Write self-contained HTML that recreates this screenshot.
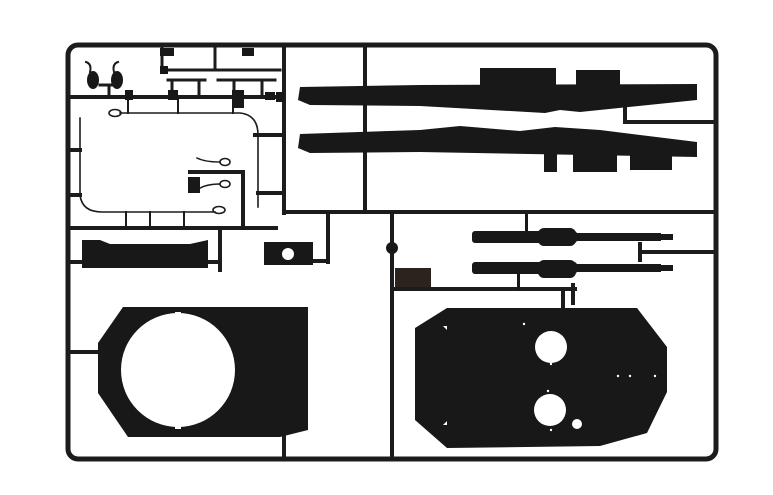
<!DOCTYPE html>
<html><head><meta charset="utf-8"><style>
html,body{margin:0;padding:0;background:#fff;width:773px;height:495px;overflow:hidden}
svg{display:block}
</style></head><body>
<svg width="773" height="495" viewBox="0 0 773 495" xmlns="http://www.w3.org/2000/svg">
<g fill="none" stroke="#1b1c1b" stroke-linecap="square">
<rect x="68" y="45" width="648" height="414" rx="10" stroke-width="5"/>
<g stroke-width="4">
<line x1="284" y1="45" x2="284" y2="213"/>
<line x1="365" y1="45" x2="365" y2="212"/>
<line x1="284" y1="212" x2="716" y2="212"/>
<line x1="68" y1="97" x2="284" y2="97"/>
<line x1="68" y1="228" x2="276" y2="228"/>
<line x1="243" y1="172" x2="243" y2="228"/>
<line x1="220" y1="228" x2="220" y2="270"/>
<line x1="392" y1="212" x2="392" y2="459"/>
<line x1="625" y1="122" x2="716" y2="122"/>
<line x1="625" y1="105" x2="625" y2="122"/>
<line x1="640" y1="252" x2="716" y2="252"/>
<line x1="640" y1="244" x2="640" y2="260"/>
<line x1="392" y1="289" x2="575" y2="289"/>
<line x1="573" y1="285" x2="573" y2="303"/>
<line x1="563" y1="289" x2="563" y2="308"/>
<line x1="328" y1="216" x2="328" y2="262"/>
<line x1="313" y1="261" x2="328" y2="261"/>
<line x1="284" y1="432" x2="284" y2="459"/>
<line x1="68" y1="352" x2="98" y2="352"/>
<line x1="190" y1="172" x2="243" y2="172"/>
<line x1="255" y1="135" x2="284" y2="135"/>
<line x1="258" y1="193" x2="284" y2="193"/>
<line x1="68" y1="150" x2="80" y2="150"/>
<line x1="68" y1="195" x2="80" y2="195"/>
<line x1="68" y1="262" x2="84" y2="262"/>
<line x1="208" y1="262" x2="220" y2="262"/>
</g>
<g stroke-width="3">
<line x1="162" y1="47" x2="162" y2="70"/>
<line x1="162" y1="70" x2="280" y2="70"/>
<line x1="215" y1="47" x2="215" y2="70"/>
<line x1="168" y1="80" x2="205" y2="80"/>
<line x1="218" y1="80" x2="275" y2="80"/>
<line x1="172" y1="80" x2="172" y2="97"/>
<line x1="199" y1="80" x2="199" y2="97"/>
<line x1="234" y1="80" x2="234" y2="97"/>
<line x1="262" y1="80" x2="262" y2="97"/>
<line x1="100" y1="85" x2="118" y2="85"/>
<line x1="109" y1="85" x2="109" y2="97"/>
</g>
<path d="M80 118 L80 195 Q82 212 102 212 L215 212" stroke-width="1.6"/>
<path d="M120 113 L240 113 Q258 115 258 135 L258 207" stroke-width="1.6"/>
<ellipse cx="115" cy="113" rx="6" ry="3.5" stroke-width="1.6"/>
<ellipse cx="219" cy="210" rx="6" ry="3.5" stroke-width="1.6"/>
<g stroke-width="2">
<line x1="126" y1="212" x2="126" y2="228"/><line x1="150" y1="212" x2="150" y2="228"/><line x1="184" y1="212" x2="184" y2="228"/>
<line x1="128" y1="97" x2="128" y2="113"/><line x1="178" y1="97" x2="178" y2="113"/><line x1="233" y1="97" x2="233" y2="113"/>
</g>
<ellipse cx="225" cy="162" rx="5" ry="3.5" stroke-width="1.6"/>
<ellipse cx="225" cy="184" rx="5" ry="3.5" stroke-width="1.6"/>
<path d="M197 158 Q205 162 220 162 M197 190 Q205 184 220 184" stroke-width="1.5"/>
<path d="M86 62 Q92 64 90 72 M118 62 Q112 64 114 72" stroke-width="2"/>
</g>
<g fill="#181818">
<rect x="160" y="48" width="14" height="8"/><rect x="242" y="48" width="12" height="8"/>
<rect x="160" y="66" width="8" height="8"/>
<rect x="188" y="177" width="12" height="16"/>
<rect x="265" y="92" width="10" height="8"/>
<ellipse cx="93" cy="80" rx="6" ry="9"/><ellipse cx="117" cy="80" rx="6" ry="9"/>
<rect x="125" y="90" width="8" height="10"/><rect x="168" y="90" width="10" height="10"/>
<rect x="232" y="90" width="12" height="18"/>
<rect x="276" y="92" width="8" height="10"/>
<path d="M300 87 L420 85 L697 84 L697 100 L580 112 L560 110 L545 113 L420 106 L310 105 L298 100 Z"/>
<rect x="480" y="68" width="76" height="18"/><rect x="576" y="70" width="44" height="16"/>
<path d="M300 134 L420 130 L460 126 L520 131 L555 127 L600 130 L697 142 L697 157 L420 152 L310 153 L298 148 Z"/>
<rect x="544" y="152" width="13" height="20"/><rect x="573" y="152" width="44" height="20"/><rect x="630" y="152" width="42" height="18"/>
<rect x="472" y="231" width="105" height="12" rx="3"/>
<rect x="538" y="228" width="38" height="18" rx="6"/>
<rect x="575" y="233" width="86" height="8"/>
<rect x="660" y="234" width="13" height="6"/>
<rect x="472" y="262" width="105" height="12" rx="3"/>
<rect x="538" y="260" width="38" height="18" rx="6"/>
<rect x="575" y="264" width="86" height="8"/>
<rect x="660" y="265" width="13" height="6"/>
<rect x="525" y="214" width="3" height="18"/>
<rect x="517" y="274" width="3" height="16"/>
<path d="M82 240 L100 240 L110 244 L190 244 L208 240 L208 268 L82 268 Z"/>
<rect x="264" y="242" width="49" height="23"/>
<circle cx="392" cy="248" r="6"/>
<rect x="395" y="268" width="36" height="19" fill="#2a241c"/>
<path fill-rule="evenodd" d="M123 307 L308 307 L308 430 L280 437 L128 437 L98 393 L98 343 Z M178 370 m-57 0 a57 57 0 1 0 114 0 a57 57 0 1 0 -114 0 Z"/>
<path fill-rule="evenodd" d="M447 308 L637 308 L667 347 L667 392 L647 433 L600 446 L447 448 L415 420 L415 328 Z M551 347 m-16 0 a16 16 0 1 0 32 0 a16 16 0 1 0 -32 0 Z M550 410 m-16 0 a16 16 0 1 0 32 0 a16 16 0 1 0 -32 0 Z M577 424 m-5 0 a5 5 0 1 0 10 0 a5 5 0 1 0 -10 0 Z"/>
</g>
<g fill="#fff">
<rect x="175" y="312" width="6" height="5"/><rect x="175" y="424" width="6" height="5"/>
<circle cx="524" cy="324" r="1.2"/><circle cx="551" cy="364" r="1.2"/><circle cx="548" cy="391" r="1.2"/><circle cx="551" cy="430" r="1.2"/>
<circle cx="618" cy="376" r="1.2"/><circle cx="630" cy="376" r="1.2"/><circle cx="655" cy="376" r="1.2"/>
<path d="M443 326 L447 326 L447 330 Z"/><path d="M443 425 L447 425 L447 421 Z"/>
</g>
<circle cx="288" cy="254" r="6" fill="#fff"/>
</svg>
</body></html>
